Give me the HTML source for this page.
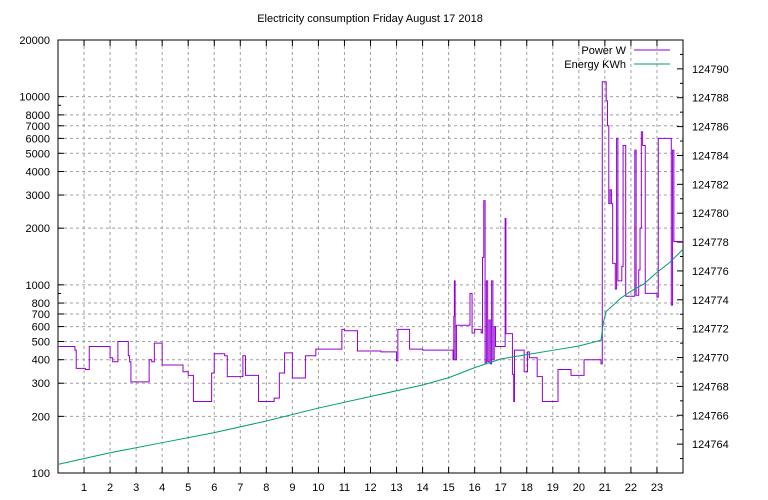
<!DOCTYPE html>
<html><head><meta charset="utf-8"><style>
body{margin:0;background:#fff}
svg{display:block;font-family:"Liberation Sans",sans-serif;font-size:11px}
</style></head><body>
<svg id="c" width="768" height="500"></svg>
<script>
const powerHours=[0,0.65,0.7,1.05,1.2,2.0,2.1,2.3,2.7,2.75,2.8,3.5,3.6,3.7,4.0,4.8,5.0,5.2,5.9,6.0,6.4,6.5,7.1,7.2,7.7,8.3,8.5,8.7,9.0,9.5,9.9,10.9,11.0,11.5,12.4,13.0,13.05,13.5,14.0,15.17,15.2,15.22,15.25,15.3,15.82,15.9,16.0,16.25,16.3,16.35,16.4,16.45,16.5,16.55,16.6,16.65,16.7,16.75,16.8,16.85,17.17,17.2,17.45,17.5,17.53,17.9,18.03,18.1,18.4,18.6,19.2,19.7,20.2,20.85,20.9,21.05,21.1,21.15,21.2,21.25,21.3,21.4,21.45,21.5,21.65,21.7,21.8,22.15,22.2,22.3,22.35,22.4,22.45,22.55,23.0,23.05,23.55,23.6,23.65];
const powerWatts=[470,450,360,355,470,410,390,500,420,390,305,400,390,490,375,345,330,240,340,430,420,325,420,330,240,250,340,435,320,420,455,580,570,445,440,395,580,455,450,400,680,1050,400,610,900,555,580,555,1400,2800,385,1050,390,650,380,1050,400,600,470,470,2250,550,335,240,450,345,440,410,325,240,355,330,400,380,12000,9500,7000,2700,3200,2700,1300,950,6000,1050,1250,5500,870,5200,880,1200,2000,6500,5500,900,860,6000,780,5200,1700,670];
const energyHours=[0,2,4,6,8,10,12,14,15,16,17,18,19,20,20.85,20.95,21.05,21.3,21.6,22.0,22.5,23,23.5,24];
const energyKWh=[124762.6,124763.4,124764.1,124764.8,124765.6,124766.5,124767.3,124768.1,124768.6,124769.3,124769.9,124770.2,124770.5,124770.8,124771.2,124772.5,124773.2,124773.6,124774.1,124774.6,124775.1,124775.9,124776.6,124777.5];
const leftTicks=[100,200,300,400,500,600,700,800,1000,2000,3000,4000,5000,6000,7000,8000,10000,20000];
const rightTicks=[124764,124766,124768,124770,124772,124774,124776,124778,124780,124782,124784,124786,124788,124790];
const xTicks=[1,2,3,4,5,6,7,8,9,10,11,12,13,14,15,16,17,18,19,20,21,22,23];

const L=58,R=683,T=40,B=473;
const xs=h=>L+(R-L)*h/24;
const yl=v=>B-(B-T)*(Math.log10(v)-2)/Math.log10(200);
const yr=v=>B-(B-T)*(v-124762)/30;
const svg=document.getElementById('c');
const NS='http://www.w3.org/2000/svg';
function mk(tag,attrs,parent){const e=document.createElementNS(NS,tag);for(const k in attrs)e.setAttribute(k,attrs[k]);(parent||svg).appendChild(e);return e;}

const grid=mk('g',{});


xTicks.forEach(h=>{mk('line',{x1:xs(h),x2:xs(h),y1:T,y2:B,stroke:'#a0a0a0','stroke-dasharray':'3,3'},grid);});
leftTicks.forEach(v=>{if(v>100&&v<20000)mk('line',{x1:L,x2:R,y1:yl(v),y2:yl(v),stroke:'#a0a0a0','stroke-dasharray':'3,3'},grid);});

const ax=mk('g',{stroke:'#000',fill:'none'});


mk('rect',{x:L,y:T,width:R-L,height:B-T},ax);
xTicks.forEach(h=>{mk('line',{x1:xs(h),x2:xs(h),y1:B,y2:B-6},ax);mk('line',{x1:xs(h),x2:xs(h),y1:T,y2:T+6},ax);});
for(let d=100;d<20000;d*=10)for(let m=1;m<10;m++){const v=d*m;if(v>20000)break;const big=leftTicks.includes(v);mk('line',{x1:L,x2:L+(big?6:3),y1:yl(v),y2:yl(v)},ax);}
for(let v=124763;v<=124791;v++){const big=v%2==0;mk('line',{x1:R,x2:R-(big?6:3),y1:yr(v),y2:yr(v)},ax);}

const lab=mk('g',{fill:'#000'});


leftTicks.forEach(v=>{const t=mk('text',{x:L-8,y:yl(v)+4,'text-anchor':'end'},lab);t.textContent=v;});
rightTicks.forEach(v=>{const t=mk('text',{x:R+9,y:yr(v)+4},lab);t.textContent=v;});
xTicks.forEach(h=>{const t=mk('text',{x:xs(h),y:491,'text-anchor':'middle'},lab);t.textContent=h;});
const title=mk('text',{x:370,y:22,'text-anchor':'middle'});
title.textContent='Electricity consumption Friday August 17 2018';



let d='';
powerHours.forEach((h,i)=>{const x=xs(h),y=yl(powerWatts[i]);if(i==0)d+=`M${x},${y}`;else d+=`H${x}V${y}`;});
d+=`H${xs(24)}`;
const p=mk('path',{d:d,fill:'none',stroke:'#9400d3','stroke-width':1});


const e=mk('polyline',{points:energyHours.map((h,i)=>xs(h)+','+yr(energyKWh[i])).join(' '),fill:'none',stroke:'#009e73','stroke-width':1});



const lg=mk('g',{});


let t1=mk('text',{x:626,y:54,'text-anchor':'end'},lg);t1.textContent='Power W';
mk('line',{x1:634,x2:670,y1:50,y2:50,stroke:'#9400d3'},lg);
let t2=mk('text',{x:626,y:68,'text-anchor':'end'},lg);t2.textContent='Energy KWh';
mk('line',{x1:634,x2:670,y1:64,y2:64,stroke:'#009e73'},lg);
</script>
</body></html>
